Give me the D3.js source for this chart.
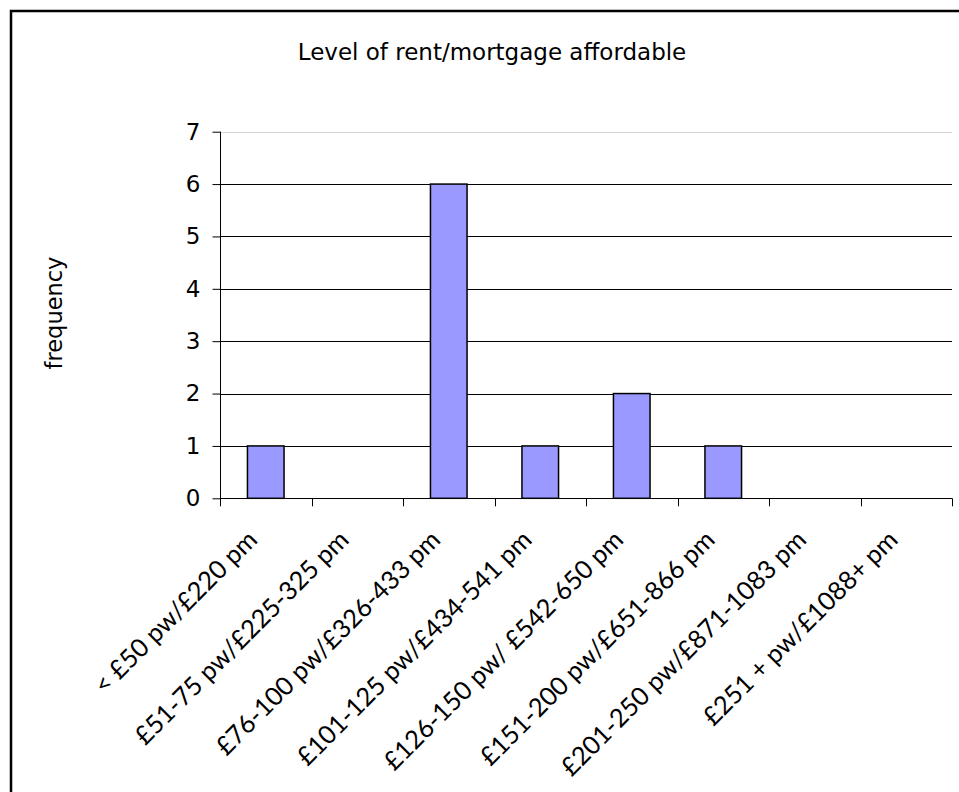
<!DOCTYPE html>
<html>
<head>
<meta charset="utf-8">
<script src="https://cdn.jsdelivr.net/npm/d3@7"></script>
<style>
  html, body { margin: 0; padding: 0; background: #fff; }
  svg { display: block; }
</style>
</head>
<body>
<svg id="chart" width="959" height="792"></svg>
<script>
// Affordability bands and how many respondents chose each
const categories = [
  "< £50 pw/£220 pm",
  "£51-75 pw/£225-325 pm",
  "£76-100 pw/£326-433 pm",
  "£101-125 pw/£434-541 pm",
  "£126-150 pw/ £542-650 pm",
  "£151-200 pw/£651-866 pm",
  "£201-250 pw/£871-1083 pm",
  "£251 + pw/£1088+  pm"
];
const frequency = [1, 0, 6, 1, 2, 1, 0, 0];
const yTicks = [0, 1, 2, 3, 4, 5, 6, 7];
const chartTitle = "Level of rent/mortgage affordable";
const yAxisTitle = "frequency";

const svg = d3.select("#chart");
const plot = { left: 220, right: 952, top: 131.7, bottom: 498.3 };

const x = d3.scaleBand()
  .domain(categories)
  .range([plot.left, plot.right])
  .paddingInner(0.6)
  .paddingOuter(0.3);
const xBounds = d3.scaleLinear()
  .domain([0, categories.length])
  .range([plot.left, plot.right]);
const y = d3.scaleLinear()
  .domain([0, 7])
  .range([plot.bottom, plot.top]);

// Chart frame
svg.append("rect")
  .attr("x", 11).attr("y", 11)
  .attr("width", 1000).attr("height", 1000)
  .attr("fill", "none")
  .attr("stroke", "#000")
  .attr("stroke-width", 2.5);

// Title
svg.append("text")
  .attr("x", 492).attr("y", 59.5)
  .attr("text-anchor", "middle")
  .attr("font-family", "'DejaVu Sans', Verdana, sans-serif")
  .attr("font-size", 23)
  .attr("fill", "#000")
  .text(chartTitle);

// Horizontal gridlines (top edge is the plot border, drawn lighter)
svg.append("g")
  .selectAll("line")
  .data(yTicks.filter(d => d > 0))
  .join("line")
  .attr("x1", plot.left).attr("x2", plot.right)
  .attr("y1", d => Math.round(y(d)) + 0.5)
  .attr("y2", d => Math.round(y(d)) + 0.5)
  .attr("stroke", d => d === 7 ? "#d4d4d4" : "#000")
  .attr("stroke-width", 1);

// Bars
svg.append("g")
  .selectAll("rect")
  .data(categories.map((c, i) => ({ c, v: frequency[i] })).filter(d => d.v > 0))
  .join("rect")
  .attr("x", d => x(d.c))
  .attr("y", d => y(d.v))
  .attr("width", x.bandwidth())
  .attr("height", d => y(0) - y(d.v))
  .attr("fill", "#9999ff")
  .attr("stroke", "#000")
  .attr("stroke-width", 1.5);

// Y axis
const yAxis = d3.axisLeft(y)
  .tickValues(yTicks)
  .tickFormat(d3.format("d"))
  .tickSize(8)
  .tickPadding(12);
const gy = svg.append("g")
  .attr("transform", `translate(${plot.left + 0.5},0)`)
  .call(yAxis);
gy.select(".domain").attr("stroke", "#000").attr("d", `M0,${y(7)}V${y(0)}`);
gy.selectAll(".tick line").attr("stroke", "#000");
gy.selectAll(".tick text")
  .attr("font-family", "'DejaVu Sans', Verdana, sans-serif")
  .attr("font-size", 23)
  .attr("fill", "#000");

// X axis line and category boundary ticks
const gx = svg.append("g");
gx.append("line")
  .attr("x1", plot.left).attr("x2", plot.right)
  .attr("y1", Math.round(y(0)) + 0.5).attr("y2", Math.round(y(0)) + 0.5)
  .attr("stroke", "#000");
gx.selectAll("line.tick")
  .data(d3.range(categories.length + 1))
  .join("line")
  .attr("class", "tick")
  .attr("x1", d => Math.round(xBounds(d)) + 0.5)
  .attr("x2", d => Math.round(xBounds(d)) + 0.5)
  .attr("y1", y(0)).attr("y2", y(0) + 8)
  .attr("stroke", "#000");

// Rotated category labels
gx.selectAll("text")
  .data(categories)
  .join("text")
  .attr("transform", d => `translate(${x(d) + x.bandwidth() / 2 - 7},${y(0) + 43}) rotate(-45)`)
  .attr("text-anchor", "end")
  .attr("font-family", "Lato, 'Open Sans', sans-serif")
  .attr("font-size", 25.5)
  .attr("fill", "#000")
  .text(d => d);

// Y axis title
svg.append("text")
  .attr("transform", "translate(62,313) rotate(-90)")
  .attr("text-anchor", "middle")
  .attr("font-family", "'DejaVu Sans', Verdana, sans-serif")
  .attr("font-size", 22.5)
  .attr("fill", "#000")
  .text(yAxisTitle);
</script>
</body>
</html>
